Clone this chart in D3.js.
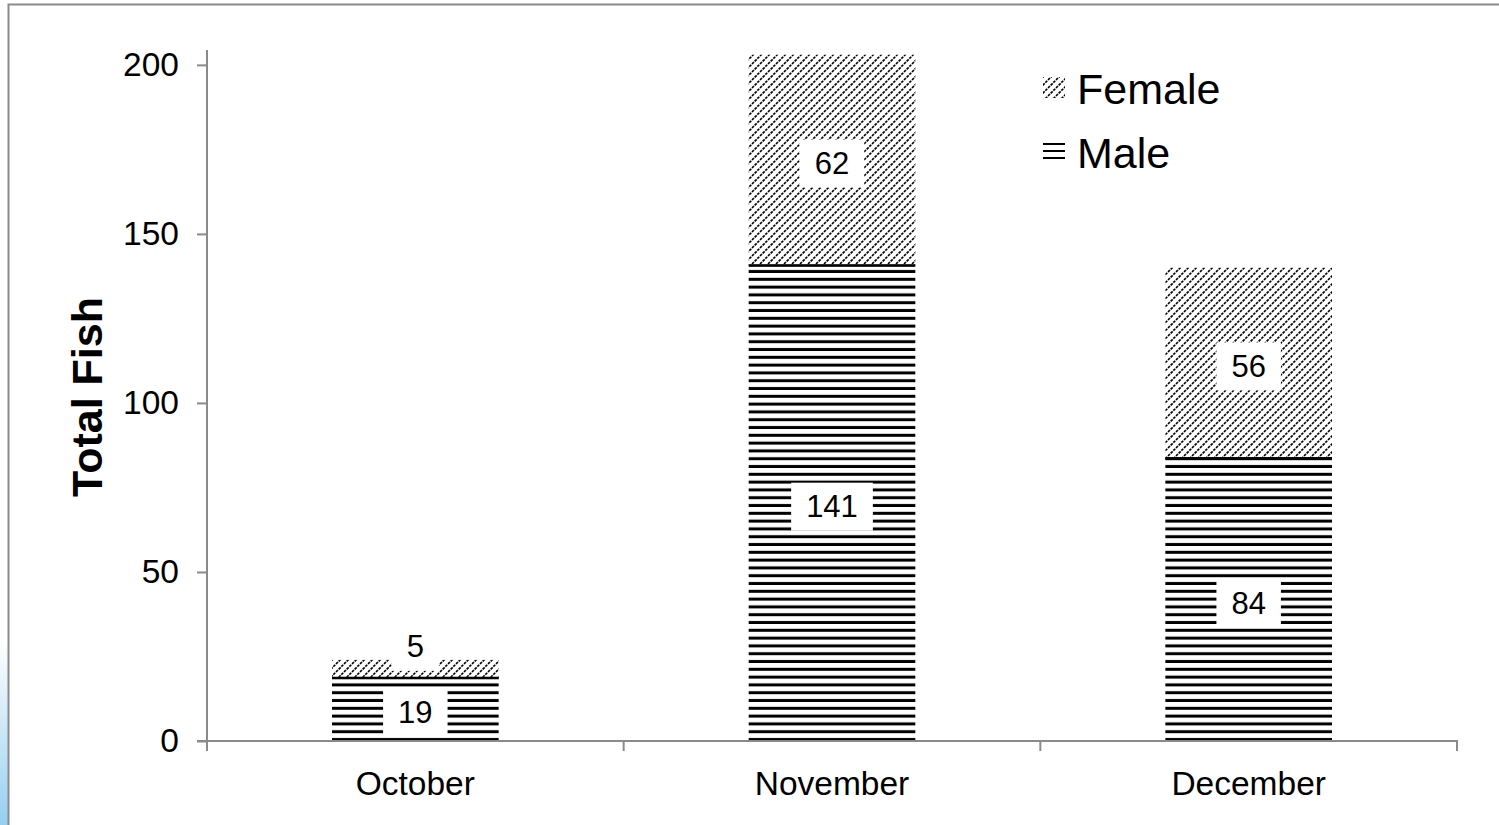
<!DOCTYPE html>
<html>
<head>
<meta charset="utf-8">
<script src="https://cdn.jsdelivr.net/npm/d3@7/dist/d3.min.js"></script>
<style>
  html, body { margin: 0; padding: 0; background: #fff; }
  svg { display: block; }
  text { font-family: "Liberation Sans", Arial, sans-serif; }
</style>
</head>
<body>
<svg id="chart" width="1499" height="825"></svg>
<script>
// ---- data ----
const categories = ["October", "November", "December"];
const maleValues = [19, 141, 84];
const femaleValues = [5, 62, 56];
const seriesNames = ["Female", "Male"];
const yTicks = [0, 50, 100, 150, 200];
const yTitle = "Total Fish";

const W = 1499, H = 825;
const svg = d3.select("#chart");
const defs = svg.append("defs");

// frame & left gradient
const grad = defs.append("linearGradient").attr("id", "edgeGrad")
  .attr("x1", 0).attr("y1", 0).attr("x2", 0).attr("y2", 1);
grad.append("stop").attr("offset", "0%").attr("stop-color", "#ffffff");
grad.append("stop").attr("offset", "100%").attr("stop-color", "#95cff0");
svg.append("rect").attr("x", 0).attr("y", 640).attr("width", 8).attr("height", H - 640)
  .attr("fill", "url(#edgeGrad)");
svg.append("rect").attr("x", 8.5).attr("y", 4.5).attr("width", W + 20).attr("height", H + 20)
  .attr("fill", "none").attr("stroke", "#8a8a8a").attr("stroke-width", 2);

const plot = { left: 207, right: 1457, top: 50, bottom: 741 };

const y = d3.scaleLinear().domain([0, 204.4]).range([plot.bottom, plot.top]);
const x = d3.scaleBand().domain(categories).range([plot.left, plot.right])
  .paddingInner(0.6).paddingOuter(0.3);

// patterns
const MP = 7.8;
function malePattern(id, yBottom) {
  const p = defs.append("pattern").attr("id", id).attr("patternUnits", "userSpaceOnUse")
    .attr("x", 0).attr("y", yBottom).attr("width", 10).attr("height", MP);
  p.append("rect").attr("width", 10).attr("height", MP).attr("fill", "#fff");
  p.append("rect").attr("y", MP - 3).attr("width", 10).attr("height", 3).attr("fill", "#000");
}
function femalePattern(id) {
  const p = defs.append("pattern").attr("id", id).attr("patternUnits", "userSpaceOnUse")
    .attr("width", 8).attr("height", 8);
  p.append("rect").attr("width", 8).attr("height", 8).attr("fill", "#fff");
  p.append("path").attr("d", "M0,8 L8,0 M-2,2 L2,-2 M6,10 L10,6")
    .attr("stroke", "#000").attr("stroke-width", 1.6)
    .attr("stroke-dasharray", "2.77 1.0");
}
femalePattern("fpat");
malePattern("mpat", plot.bottom);

const stackData = categories.map((c, i) => ({
  cat: c, male: maleValues[i], female: femaleValues[i], i
}));

// bars
const gBars = svg.append("g");
stackData.forEach(d => {
  const bx = x(d.cat), bw = x.bandwidth();
  const yMaleTop = y(d.male);
  gBars.append("rect").attr("x", bx).attr("y", yMaleTop)
    .attr("width", bw).attr("height", y(0) - yMaleTop)
    .attr("fill", "url(#mpat)");
  const yFemTop = y(d.male + d.female);
  gBars.append("rect").attr("x", bx).attr("y", yFemTop)
    .attr("width", bw).attr("height", yMaleTop - yFemTop)
    .attr("fill", "url(#fpat)");
  // divider stripe at the top of the male segment
  gBars.append("rect").attr("x", bx).attr("y", yMaleTop)
    .attr("width", bw).attr("height", 2.5).attr("fill", "#000");
});

// axes
const axisColor = "#8a8a8a";
const gAxes = svg.append("g");
gAxes.append("line").attr("x1", plot.left).attr("x2", plot.left)
  .attr("y1", plot.top).attr("y2", plot.bottom + 10)
  .attr("stroke", axisColor).attr("stroke-width", 2);
gAxes.append("line").attr("x1", plot.left - 10).attr("x2", plot.right + 1)
  .attr("y1", plot.bottom).attr("y2", plot.bottom)
  .attr("stroke", axisColor).attr("stroke-width", 2);

const yAxis = d3.axisLeft(y).tickValues(yTicks).tickSize(10).tickPadding(18);
const gy = svg.append("g").attr("transform", `translate(${plot.left},0)`).call(yAxis);
gy.select(".domain").remove();
gy.selectAll(".tick line").attr("stroke", axisColor).attr("stroke-width", 2);
gy.selectAll(".tick text").attr("font-size", 33.5).attr("fill", "#000")
  .attr("font-family", "Liberation Sans, Arial, sans-serif");

// x category ticks at band boundaries
const boundaries = categories.map(c => x(c) - x.step() * x.paddingInner() / 2)
  .concat([plot.right]);
boundaries[0] = plot.left;
boundaries.slice(1).forEach(bx => {
  gAxes.append("line").attr("x1", bx).attr("x2", bx)
    .attr("y1", plot.bottom).attr("y2", plot.bottom + 10)
    .attr("stroke", axisColor).attr("stroke-width", 2);
});
svg.append("g").selectAll("text").data(categories).join("text")
  .attr("x", c => x(c) + x.bandwidth() / 2)
  .attr("y", plot.bottom + 54)
  .attr("text-anchor", "middle").attr("font-size", 33.5).attr("fill", "#000")
  .text(c => c);

// y title
svg.append("text")
  .attr("transform", `translate(102,397) rotate(-90)`)
  .attr("text-anchor", "middle").attr("font-size", 43).attr("font-weight", "bold")
  .attr("fill", "#000").text(yTitle);

// data labels
const labelFont = 31, boxH = 48, padX = 15;
const gLab = svg.append("g");
function drawLabel(cx, cy, txt) {
  const t = gLab.append("text").attr("x", cx).attr("y", cy)
    .attr("text-anchor", "middle").attr("dominant-baseline", "central")
    .attr("font-size", labelFont).attr("fill", "#000").text(txt);
  const w = t.node().getComputedTextLength() + padX * 2;
  gLab.insert("rect", "text:last-child")
    .attr("x", cx - w / 2).attr("y", cy - boxH / 2)
    .attr("width", w).attr("height", boxH).attr("fill", "#fff");
  t.raise();
}
stackData.forEach(d => {
  const cx = x(d.cat) + x.bandwidth() / 2;
  drawLabel(cx, y(d.male / 2) + 4, String(d.male));
  // female label; if the segment is too thin, place it just above the bar
  const segH = y(d.male) - y(d.male + d.female);
  const fy = segH < boxH ? y(d.male + d.female) - 13 : y(d.male + d.female / 2) + 4;
  drawLabel(cx, fy, String(d.female));
});

// legend
const lp = defs.append("pattern").attr("id", "legM").attr("patternUnits", "userSpaceOnUse")
  .attr("x", 0).attr("y", 143).attr("width", 10).attr("height", 7);
lp.append("rect").attr("width", 10).attr("height", 7).attr("fill", "#fff");
lp.append("rect").attr("width", 10).attr("height", 2).attr("fill", "#000");
const gLeg = svg.append("g");
const legItems = [
  { name: seriesNames[0], fill: "url(#fpat)", y: 89, sy: 77, sh: 21 },
  { name: seriesNames[1], fill: "url(#legM)", y: 153, sy: 143, sh: 16 }
];
legItems.forEach(it => {
  gLeg.append("rect").attr("x", 1043).attr("y", it.sy).attr("width", 22).attr("height", it.sh)
    .attr("fill", it.fill);
  gLeg.append("text").attr("x", 1077).attr("y", it.y)
    .attr("dominant-baseline", "central").attr("font-size", 43).attr("fill", "#000")
    .text(it.name);
});
</script>
</body>
</html>
